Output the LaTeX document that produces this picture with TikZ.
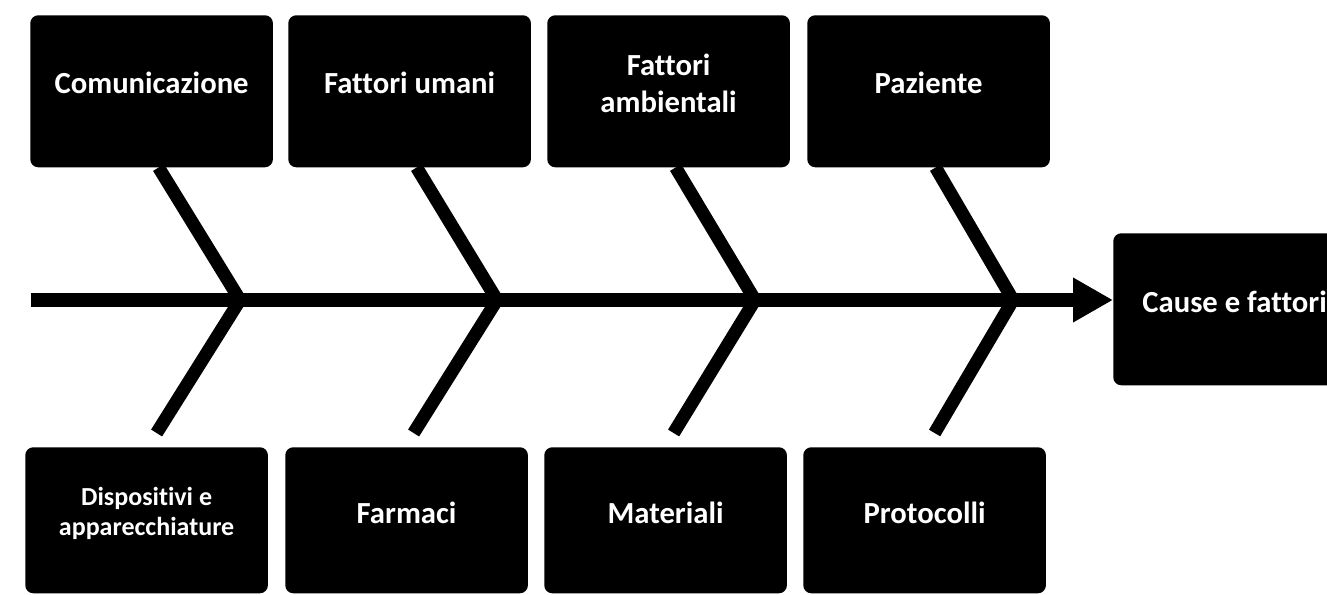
\documentclass[tikz,border=0pt]{standalone}
\usepackage{fontspec}
\setmainfont{Carlito}[Ligatures=NoCommon]
\usetikzlibrary{arrows.meta}

\tikzset{
  causebox/.style = {fill=black, rounded corners=6pt, inner sep=0pt,
                     minimum width=182pt, minimum height=114pt, anchor=north west},
  lowbox/.style   = {causebox, minimum height=109.5pt},
  causetext/.style = {text=white, align=center, font=\bfseries\fontsize{23}{28}\selectfont},
  bone/.style  = {line width=9.75pt, miter limit=10},
  spine/.style = {line width=10.5pt, -{Triangle[length=30pt,width=31.5pt]}}
}

\begin{document}
\begin{tikzpicture}[x=0.75pt, y=-0.75pt]
\useasboundingbox (0,0) rectangle (1327,595);

% cause boxes above the spine
\node[causebox] (com) at (30,15) {};
\node[causebox] (uma) at (288,15) {};
\node[causebox] (amb) at (547,15) {};
\node[causebox] (paz) at (807,15) {};
\node[causetext] (comtxt) at ([shift={(0,-8)}]com.center) {Comunicazione};
\node[causetext] (umatxt) at ([shift={(0,-8)}]uma.center) {Fattori umani};
\node[causetext] (ambtxt) at ([shift={(0,-8)}]amb.center) {Fattori\\ambientali};
\node[causetext] (paztxt) at ([shift={(0,-8)}]paz.center) {Paziente};

% cause boxes below the spine
\node[lowbox] (dis) at (25,447) {};
\node[lowbox] (far) at (285,447) {};
\node[lowbox] (mat) at (544,447) {};
\node[lowbox] (pro) at (803,447) {};
\node[causetext, font=\bfseries\fontsize{19.5}{23}\selectfont] (distxt)
  at ([shift={(0,-7)}]dis.center) {Dispositivi e\\apparecchiature};
\node[causetext] (fartxt) at ([shift={(0,-7)}]far.center) {Farmaci};
\node[causetext] (mattxt) at ([shift={(0,-7)}]mat.center) {Materiali};
\node[causetext] (protxt) at ([shift={(0,-7)}]pro.center) {Protocolli};

% effect
\node[causebox] (eff) at (1113,233) {};
\node[causetext] (efftxt) at ([shift={(0,-7)}]eff.center) {Cause e fattori};

% spine
\coordinate (tail) at (31,300);
\draw[spine] (tail) -- (tail -| eff.west);

% bones
\coordinate (v1) at (240,300);
\coordinate (v2) at (497,300);
\coordinate (v3) at (755,300);
\coordinate (v4) at (1013,300);
\draw[bone] ([shift={(7,0)}]com.south) -- (v1) -- ([shift={(10,-14)}]dis.north);
\draw[bone] ([shift={(7,0)}]uma.south) -- (v2) -- ([shift={(7,-14)}]far.north);
\draw[bone] ([shift={(7,0)}]amb.south) -- (v3) -- ([shift={(8,-14)}]mat.north);
\draw[bone] ([shift={(7,0)}]paz.south) -- (v4) -- ([shift={(10,-14)}]pro.north);
\end{tikzpicture}
\end{document}
